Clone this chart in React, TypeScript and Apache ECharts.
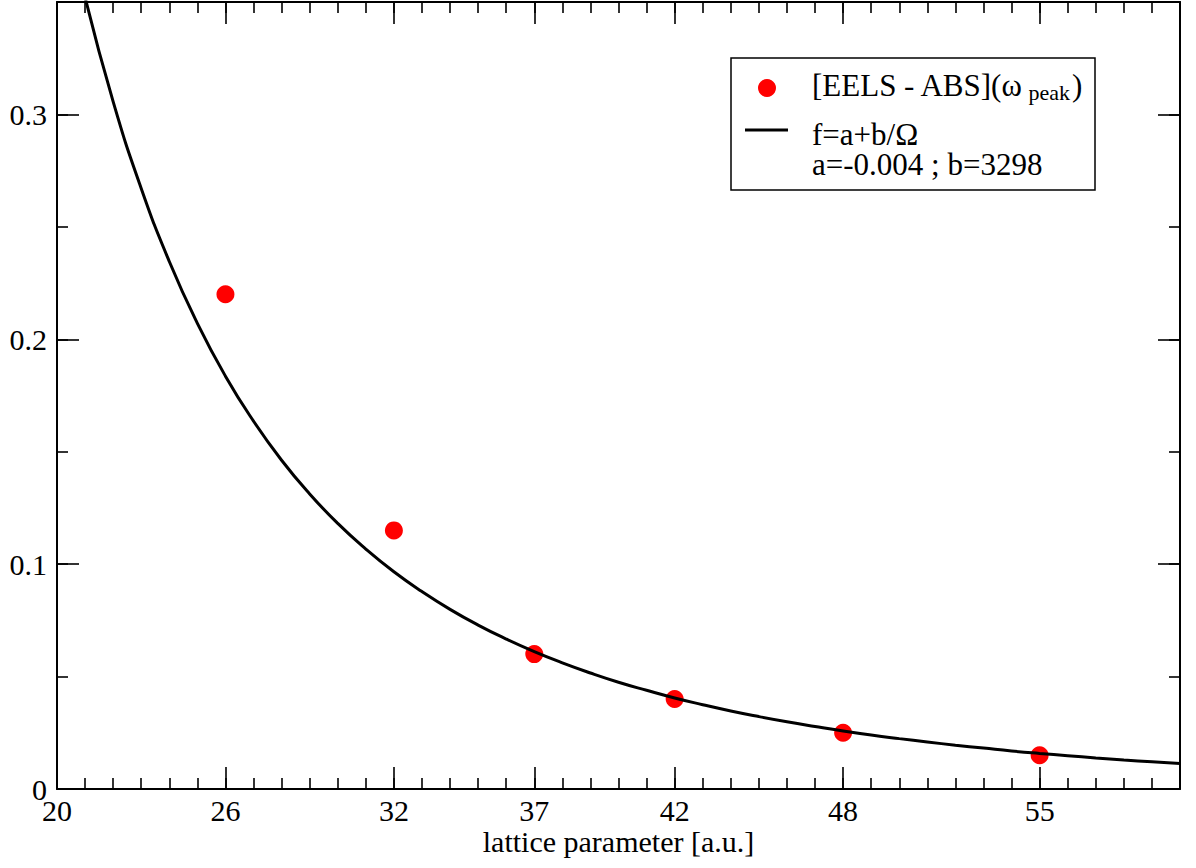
import React, { useEffect, useRef } from "react";
import * as echarts from "echarts";

// Measured points: [EELS - ABS](ω_peak)
const pointX = [26, 32, 37, 42, 48, 55];
const pointY = [0.22, 0.115, 0.06, 0.04, 0.025, 0.015];

// Fit curve f = a + b/Ω
const curveX = [21, 22, 23, 24, 25, 26, 27, 28, 29, 30, 31, 32, 33, 34, 35, 36, 37, 38, 39, 40, 41, 42, 43, 44, 45, 46, 47, 48, 49, 50, 51, 52, 53, 54, 55, 56, 57, 58, 59, 60];
const curveY = [0.3521, 0.3057, 0.2671, 0.2346, 0.2071, 0.1836, 0.1636, 0.1462, 0.1312, 0.1181, 0.1067, 0.0966, 0.0878, 0.0799, 0.0729, 0.0667, 0.0611, 0.0561, 0.0516, 0.0475, 0.0439, 0.0405, 0.0375, 0.0347, 0.0322, 0.0299, 0.0278, 0.0258, 0.024, 0.0224, 0.0209, 0.0195, 0.0182, 0.0169, 0.0158, 0.0148, 0.0138, 0.0129, 0.0121, 0.0113];

// Tick labels
const xTickLabels = [20, 26, 32, 37, 42, 48, 55];
const yTickLabels = [0, 0.1, 0.2, 0.3];

const FONT = "Liberation Serif";

export default function App() {
  const ref = useRef<HTMLDivElement>(null);

  useEffect(() => {
    if (!ref.current) return;
    const chart = echarts.init(ref.current, undefined, { renderer: "svg" });

    const black = "#000";
    const frameLine = { show: true, onZero: false, lineStyle: { color: black, width: 2 } };
    const tickStyle = { color: black, width: 1.6 };

    const xBase = { type: "value", min: 20, max: 60, splitLine: { show: false } } as any;
    const yBase = { type: "value", min: 0, max: 0.35, splitLine: { show: false } } as any;

    const xAxes = [
      {
        ...xBase,
        position: "bottom",
        interval: 1,
        axisLine: frameLine,
        axisTick: { show: true, inside: true, length: 11, lineStyle: tickStyle },
        axisLabel: {
          show: true,
          margin: 9,
          fontSize: 30,
          lineHeight: 24,
          fontFamily: FONT,
          color: black,
          formatter: (v: number) => (xTickLabels.indexOf(Math.round(v)) >= 0 && Math.abs(v - Math.round(v)) < 1e-6 ? String(Math.round(v)) : ""),
        },
        name: "lattice parameter [a.u.]",
        nameLocation: "middle",
        nameGap: 40,
        nameMoveOverlap: false,
        nameTextStyle: { fontSize: 30, lineHeight: 24, fontFamily: FONT, color: black },
      },
      {
        ...xBase,
        position: "bottom",
        axisLine: { show: false, onZero: false },
        axisTick: { show: true, inside: true, length: 22, lineStyle: tickStyle, customValues: xTickLabels },
        axisLabel: { show: false },
      },
      {
        ...xBase,
        position: "top",
        interval: 1,
        axisLine: frameLine,
        axisTick: { show: true, inside: true, length: 11, lineStyle: tickStyle },
        axisLabel: { show: false },
      },
      {
        ...xBase,
        position: "top",
        axisLine: { show: false, onZero: false },
        axisTick: { show: true, inside: true, length: 22, lineStyle: tickStyle, customValues: xTickLabels },
        axisLabel: { show: false },
      },
    ];

    const yAxes = [
      {
        ...yBase,
        position: "left",
        interval: 0.05,
        axisLine: frameLine,
        axisTick: { show: true, inside: true, length: 11, lineStyle: tickStyle },
        axisLabel: {
          show: true,
          margin: 10,
          fontSize: 30,
          lineHeight: 24,
          fontFamily: FONT,
          color: black,
          formatter: (v: number) => {
            for (const t of yTickLabels) {
              if (Math.abs(v - t) < 1e-6) return t === 0 ? "0" : t.toFixed(1);
            }
            return "";
          },
        },
      },
      {
        ...yBase,
        position: "left",
        axisLine: { show: false, onZero: false },
        axisTick: { show: true, inside: true, length: 22, lineStyle: tickStyle, customValues: yTickLabels },
        axisLabel: { show: false },
      },
      {
        ...yBase,
        position: "right",
        interval: 0.05,
        axisLine: frameLine,
        axisTick: { show: true, inside: true, length: 11, lineStyle: tickStyle },
        axisLabel: { show: false },
      },
      {
        ...yBase,
        position: "right",
        axisLine: { show: false, onZero: false },
        axisTick: { show: true, inside: true, length: 22, lineStyle: tickStyle, customValues: yTickLabels },
        axisLabel: { show: false },
      },
    ];

    chart.setOption({
      animation: false,
      backgroundColor: "#fff",
      textStyle: { fontFamily: FONT },
      grid: { left: 57, right: 16, top: 2, bottom: 79, containLabel: false, outerBoundsMode: "none" },
      xAxis: xAxes,
      yAxis: yAxes,
      series: [
        {
          type: "scatter",
          name: "[EELS - ABS](ω peak)",
          xAxisIndex: 0,
          yAxisIndex: 0,
          data: pointX.map((x, i) => [x, pointY[i]]),
          symbol: "circle",
          symbolSize: 18,
          itemStyle: { color: "#ff0000", opacity: 1 },
          z: 2,
        },
        {
          type: "line",
          name: "f=a+b/Ω",
          xAxisIndex: 0,
          yAxisIndex: 0,
          data: curveX.map((x, i) => [x, curveY[i]]),
          showSymbol: false,
          symbol: "none",
          smooth: true,
          clip: true,
          lineStyle: { color: black, width: 3 },
          z: 3,
        },
      ],
      graphic: [
        {
          type: "rect",
          shape: { x: 731, y: 58, width: 364, height: 132 },
          style: { fill: "#fff", stroke: black, lineWidth: 1.5 },
          z: 10,
        },
        {
          type: "circle",
          shape: { cx: 767, cy: 88, r: 9 },
          style: { fill: "#ff0000" },
          z: 11,
        },
        {
          type: "line",
          shape: { x1: 745, y1: 130, x2: 788, y2: 130 },
          style: { stroke: black, lineWidth: 3 },
          z: 11,
        },
        {
          type: "text",
          x: 812,
          y: 68,
          z: 11,
          style: {
            text: "{m|[EELS - ABS](ω}{s|peak}{m|)}",
            fill: black,
            verticalAlign: "top",
            align: "left",
            rich: {
              m: { fontSize: 31, fontFamily: FONT, lineHeight: 35, verticalAlign: "middle", fill: black },
              s: { fontSize: 22, fontFamily: FONT, lineHeight: 22, verticalAlign: "bottom", padding: [0, 2, 0, 5], fill: black },
            },
          },
        },
        {
          type: "text",
          x: 812,
          y: 119,
          z: 11,
          style: {
            text: "f=a+b/Ω\na=-0.004 ; b=3298",
            fontSize: 31,
            lineHeight: 30,
            fontFamily: FONT,
            fill: black,
            verticalAlign: "top",
            align: "left",
          },
        },
      ],
    });

    return () => chart.dispose();
  }, []);

  return (
    <div
      ref={ref}
      style={{ position: "fixed", left: 0, top: 0, width: 1196, height: 868, background: "#fff" }}
    />
  );
}
